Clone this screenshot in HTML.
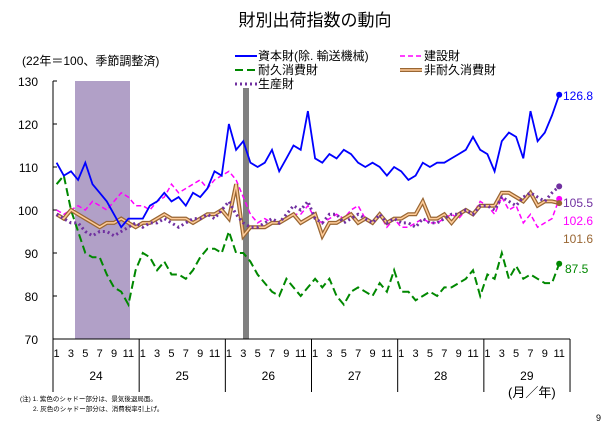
<!DOCTYPE html><html><head><meta charset="utf-8"><style>
body{margin:0;background:#fff;font-family:"Liberation Sans","Noto Sans CJK JP",sans-serif}
</style></head><body>
<svg width="615" height="426" xmlns="http://www.w3.org/2000/svg" font-family="Liberation Sans, Noto Sans CJK JP, sans-serif">
<text x="315" y="26" font-size="17" text-anchor="middle">財別出荷指数の動向</text>
<text x="22" y="65" font-size="12">(22年＝100、季節調整済)</text>
<rect x="75" y="81" width="55" height="258" fill="#b1a0c7"/>
<rect x="243" y="88" width="6" height="251" fill="#808080"/>
<g font-size="12" text-anchor="end">
<text x="38" y="86">130</text><text x="38" y="129">120</text><text x="38" y="172">110</text><text x="38" y="215">100</text><text x="38" y="258">90</text><text x="38" y="301">80</text><text x="38" y="344">70</text>
</g>
<g stroke="#000" stroke-width="1">
<line x1="53" y1="81" x2="53" y2="339"/><line x1="53" y1="339" x2="570" y2="339"/>
<line x1="53" y1="81" x2="57" y2="81"/><line x1="53" y1="124" x2="57" y2="124"/><line x1="53" y1="167" x2="57" y2="167"/><line x1="53" y1="210" x2="57" y2="210"/><line x1="53" y1="253" x2="57" y2="253"/><line x1="53" y1="296" x2="57" y2="296"/>
</g>
<g id="yrs" stroke="#000"></g>
<g id="lbl" font-size="11"></g>
<g id="ser"></g>
<g font-size="12">
<line x1="235" y1="56" x2="257" y2="56" stroke="#00f" stroke-width="2"/><text x="258" y="60">資本財(除. 輸送機械)</text>
<line x1="400" y1="56" x2="422" y2="56" stroke="#f0f" stroke-width="1.5" stroke-dasharray="5,3"/><text x="424" y="60">建設財</text>
<line x1="235" y1="70" x2="257" y2="70" stroke="#080" stroke-width="2" stroke-dasharray="8,4"/><text x="258" y="74">耐久消費財</text>
<line x1="400" y1="70" x2="422" y2="70" stroke="#963" stroke-width="4"/><line x1="400" y1="70" x2="422" y2="70" stroke="#fc9" stroke-width="1.5"/><text x="424" y="74">非耐久消費財</text>
<line x1="235" y1="84" x2="257" y2="84" stroke="#7030a0" stroke-width="3" stroke-dasharray="2,3"/><text x="258" y="88">生産財</text>
</g>
<g font-size="12">
<text x="563" y="100" fill="#00f">126.8</text>
<text x="563" y="207" fill="#7030a0">105.5</text>
<text x="563" y="225" fill="#f0f">102.6</text>
<text x="563" y="243" fill="#963">101.6</text>
<text x="565" y="273" fill="#080">87.5</text>
</g>
<text x="508" y="397" font-size="13">(月／年)</text>
<text x="20" y="401" font-size="6.5">(注) 1. 紫色のシャドー部分は、景気後退局面。</text>
<text x="33" y="411" font-size="6.5">2. 灰色のシャドー部分は、消費税率引上げ。</text>
<text x="596" y="421" font-size="9">9</text>
</svg>
<script>
const ns="http://www.w3.org/2000/svg";
function el(p,t,a,txt){const e=document.createElementNS(ns,t);for(const k in a)e.setAttribute(k,a[k]);if(txt!=null)e.textContent=txt;document.getElementById(p).appendChild(e);return e;}
const X=i=>53+7.18*(i+0.5),Y=v=>81+(130-v)*4.3;
for(let y=0;y<=6;y++){const x=53+y*86.17;el("yrs","line",{x1:x,y1:339,x2:x,y2:392});
 if(y<6){el("lbl","text",{x:x+43,y:380,"text-anchor":"middle","font-size":"12"},String(24+y));
 [1,3,5,7,9,11].forEach(m=>el("lbl","text",{x:X(y*12+m-1),y:357,"text-anchor":"middle"},String(m)));}}
const cap=[111,108,109,107,111,106,104,102,99,96,98,98,98,101,102,104,102,103,101,104,103,105,109,108,120,114,116,111,110,111,114,109,112,115,114,123,112,111,113,112,114,113,111,110,111,110,108,110,109,107,108,111,110,111,111,112,113,114,117,114,113,109,116,118,117,112,123,116,118,122,126.8];
const con=[100,99,100,101,100,102,101,100,102,104,103,101,101,100,102,103,106,104,105,106,107,105,107,108,109,107,103,99,97,98,97,97,98,99,99,101,98,97,98,99,98,100,101,98,97,99,96,98,96,96,97,98,97,97,98,99,98,100,99,102,101,99,103,100,101,97,99,96,97,98,102.6];
const dur=[106,108,100,95,90,89,89,85,82,81,78,86,90,89,86,88,85,85,84,86,89,91,91,90,95,90,90,88,85,83,81,80,84,82,80,82,84,82,84,80,78,81,82,81,80,83,81,86,81,81,79,80,81,80,82,82,83,84,86,80,85,84,90,84,87,84,85,84,83,83,87.5];
const nd=[99,98,100,99,98,97,96,97,97,98,97,96,97,97,98,99,98,98,98,97,98,99,99,100,98,106,94,96,96,96,97,97,98,99,97,98,99,94,97,97,98,99,97,98,97,99,97,98,98,99,99,102,98,98,99,97,99,100,99,101,101,101,104,104,103,102,104,101,102,102,101.6];
const pro=[99,98,97,97,95,94,95,95,94,95,96,97,96,97,97,98,97,96,97,98,98,99,98,100,102,99,97,96,96,97,98,97,99,101,100,102,98,97,99,99,97,98,99,98,97,99,97,98,97,97,96,98,97,97,98,99,99,100,99,101,101,100,103,102,101,103,104,103,102,104,105.5];
function pts(a){return a.map((v,i)=>X(i).toFixed(1)+","+Y(v).toFixed(1)).join(" ");}
el("ser","polyline",{points:pts(con),fill:"none",stroke:"#f0f","stroke-width":1.5,"stroke-dasharray":"5,3"});
el("ser","polyline",{points:pts(dur),fill:"none",stroke:"#080","stroke-width":2,"stroke-dasharray":"8,4"});
el("ser","polyline",{points:pts(nd),fill:"none",stroke:"#963","stroke-width":4});
el("ser","polyline",{points:pts(nd),fill:"none",stroke:"#fc9","stroke-width":1.5});
el("ser","polyline",{points:pts(pro),fill:"none",stroke:"#7030a0","stroke-width":3,"stroke-dasharray":"2,3"});
el("ser","polyline",{points:pts(cap),fill:"none",stroke:"#00f","stroke-width":1.8});
[[cap,"#00f"],[con,"#f0f"],[dur,"#080"],[nd,"#963"],[pro,"#7030a0"]].forEach(([a,c])=>el("ser","circle",{cx:X(a.length-1),cy:Y(a[a.length-1]),r:3,fill:c}));
</script>
</body></html>
